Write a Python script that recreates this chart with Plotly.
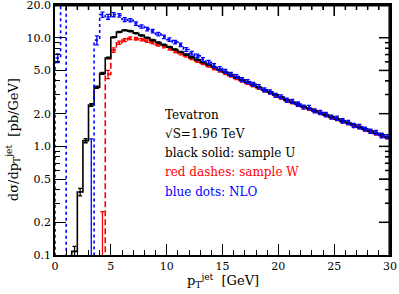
import plotly.graph_objects as go

# ---------------- data (0.5 GeV bins; values in pb/GeV) ----------------
BIN_W = 0.5

# black solid: sample U  (first bin starts at 1.5 GeV)
U_START = 1.5
U_VALS = [0.108, 0.38, 1.13, 2.4, 3.5, 4.7, 6.5,
          10.1, 11.3, 11.7, 11.5, 11.0, 10.5, 10.0, 9.5, 9.05, 8.6,
          8.2, 7.8, 7.4, 7.0, 6.6, 6.25, 5.95, 5.65, 5.35, 5.05,
          4.8, 4.55, 4.3, 4.1, 3.9, 3.7, 3.5, 3.3, 3.15, 2.98,
          2.83, 2.68, 2.55, 2.44, 2.33, 2.23, 2.13, 2.04, 1.95, 1.87,
          1.79, 1.71, 1.64, 1.57, 1.50, 1.44, 1.38, 1.32, 1.27, 1.21]
U_ERR = [0.012, 0.03, 0.05, 0.07, 0.08, 0.09, 0.11,
         0.15, 0.16, 0.16, 0.16, 0.15, 0.14, 0.14, 0.13, 0.12, 0.12,
         0.11, 0.11, 0.10, 0.10, 0.09, 0.09, 0.08, 0.08, 0.08, 0.07,
         0.07, 0.07, 0.06, 0.06, 0.06, 0.05, 0.05, 0.05, 0.05, 0.04,
         0.04, 0.04, 0.04, 0.04, 0.03, 0.03, 0.03, 0.03, 0.03, 0.03,
         0.03, 0.03, 0.03, 0.02, 0.02, 0.02, 0.02, 0.02, 0.02, 0.02]

# red dashes: sample W  (first bin starts at 4.0 GeV)
W_START = 4.0
W_VALS = [0.01, 4.6,
          7.7, 9.0, 9.5, 9.9, 9.8, 9.6, 9.3, 9.0, 8.6, 8.3,
          7.9, 7.5, 7.15, 6.8, 6.45, 6.1, 5.8, 5.5, 5.2, 4.95,
          4.7, 4.45, 4.22, 4.0, 3.82, 3.62, 3.44, 3.26, 3.10, 2.94,
          2.80, 2.65, 2.53, 2.42, 2.31, 2.21, 2.12, 2.02, 1.94, 1.85,
          1.78, 1.70, 1.63, 1.56, 1.50, 1.43, 1.37, 1.31, 1.26, 1.20]
W_ERR_UP = [0.24, 0.4,
            0.35, 0.3, 0.3, 0.28, 0.27, 0.26, 0.25, 0.24, 0.23, 0.22,
            0.21, 0.2, 0.19, 0.18, 0.17, 0.16, 0.15, 0.14, 0.13, 0.13,
            0.12, 0.11, 0.11, 0.10, 0.10, 0.09, 0.09, 0.08, 0.08, 0.08,
            0.07, 0.07, 0.07, 0.06, 0.06, 0.06, 0.06, 0.05, 0.05, 0.05,
            0.05, 0.05, 0.04, 0.04, 0.04, 0.04, 0.04, 0.04, 0.03, 0.03]
W_ERR_DN = [0.0, 0.4,
            0.35, 0.3, 0.3, 0.28, 0.27, 0.26, 0.25, 0.24, 0.23, 0.22,
            0.21, 0.2, 0.19, 0.18, 0.17, 0.16, 0.15, 0.14, 0.13, 0.13,
            0.12, 0.11, 0.11, 0.10, 0.10, 0.09, 0.09, 0.08, 0.08, 0.08,
            0.07, 0.07, 0.07, 0.06, 0.06, 0.06, 0.06, 0.05, 0.05, 0.05,
            0.05, 0.05, 0.04, 0.04, 0.04, 0.04, 0.04, 0.04, 0.03, 0.03]

# blue dots: NLO  (first bin starts at 0 GeV)
NLO_START = 0.0
NLO_VALS = [6.5, 40.0, 0.01, 0.01, 0.01, 0.01, 0.01, 9.5, 16.3, 15.6,
            16.3, 16.1, 14.7, 14.5, 13.5, 12.7, 12.0, 11.5, 10.8, 10.2,
            9.6, 9.1, 8.6, 7.8, 7.2, 6.8, 6.3, 5.95, 5.55, 5.2,
            4.9, 4.6, 4.4, 4.12, 3.95, 3.72, 3.55, 3.32, 3.18, 2.95,
            2.86, 2.66, 2.6, 2.45, 2.30, 2.28, 2.12, 2.05, 1.96, 1.86,
            1.82, 1.72, 1.66, 1.56, 1.52, 1.44, 1.38, 1.34, 1.26, 1.23]
NLO_ERR_UP = [0.6, 0.0, 0.0, 0.0, 0.0, 0.0, 1.16, 0.9, 0.9, 0.8,
              0.7, 0.6, 0.6, 0.5, 0.5, 0.45, 0.45, 0.4, 0.4, 0.38,
              0.35, 0.33, 0.3, 0.3, 0.28, 0.26, 0.25, 0.24, 0.22, 0.21,
              0.2, 0.19, 0.18, 0.17, 0.16, 0.15, 0.15, 0.14, 0.13, 0.13,
              0.12, 0.12, 0.11, 0.11, 0.10, 0.10, 0.09, 0.09, 0.09, 0.08,
              0.08, 0.08, 0.07, 0.07, 0.07, 0.06, 0.06, 0.06, 0.06, 0.05]
NLO_ERR_DN = [0.6, 0.0, 0.0, 0.0, 0.0, 0.0, 0.0, 0.9, 0.9, 0.8,
              0.7, 0.6, 0.6, 0.5, 0.5, 0.45, 0.45, 0.4, 0.4, 0.38,
              0.35, 0.33, 0.3, 0.3, 0.28, 0.26, 0.25, 0.24, 0.22, 0.21,
              0.2, 0.19, 0.18, 0.17, 0.16, 0.15, 0.15, 0.14, 0.13, 0.13,
              0.12, 0.12, 0.11, 0.11, 0.10, 0.10, 0.09, 0.09, 0.09, 0.08,
              0.08, 0.08, 0.07, 0.07, 0.07, 0.06, 0.06, 0.06, 0.06, 0.05]

X_RANGE = [0, 30]
Y_LOG_RANGE = [-1, 1.3012]
X_TICKS = [0, 5, 10, 15, 20, 25, 30]
X_MINOR = [v for v in range(1, 30) if v % 5 != 0]
Y_TICKS = [0.1, 0.2, 0.5, 1, 2, 5, 10, 20]
Y_TICK_TEXT = ["0.1", "0.2", "0.5", "1.0", "2.0", "5.0", "10.0", "20.0"]
Y_MINOR = [0.3, 0.4, 0.6, 0.7, 0.8, 0.9, 3, 4, 6, 7, 8, 9]

NOTE_LINES = [("Tevatron", "black"), ("√S=1.96 TeV", "black"),
              ("black solid: sample U", "black"),
              ("red dashes: sample W", "#ff0000"),
              ("blue dots: NLO", "#0000ff")]

FLOOR = 0.01  # below the visible range: used to start each step line

W_PX, H_PX = 399, 294
MARGIN = dict(l=55, r=9, t=5, b=39, pad=0)
MAJOR_LEN, MINOR_LEN = 11, 5


def step_xy(start, vals):
    edges = [start + i * BIN_W for i in range(len(vals) + 1)]
    xs = [start] + edges
    ys = [FLOOR] + list(vals) + [vals[-1]]
    return xs, ys


def centers(start, vals):
    return [start + (i + 0.5) * BIN_W for i in range(len(vals))]


fig = go.Figure()

series = [
    (W_START, W_VALS, W_ERR_UP, W_ERR_DN, "#ff0000", "6px,3px"),
    (U_START, U_VALS, U_ERR, U_ERR, "#000000", "solid"),
    (NLO_START, NLO_VALS, NLO_ERR_UP, NLO_ERR_DN, "#0000ff", "dot"),
]
for start, vals, eup, edn, col, dash in series:
    xs, ys = step_xy(start, vals)
    fig.add_trace(go.Scatter(x=xs, y=ys, mode="lines", line_shape="hv",
                             line=dict(color=col, width=1.6, dash=dash),
                             hoverinfo="skip", showlegend=False,
                             cliponaxis=True))
    fig.add_trace(go.Scatter(x=centers(start, vals), y=vals, mode="markers",
                             marker=dict(color=col, size=2),
                             error_y=dict(type="data", symmetric=False,
                                          array=eup, arrayminus=edn,
                                          color=col, thickness=1.3, width=2),
                             showlegend=False, cliponaxis=True))

# ---- top / right frame with mirrored ticks, drawn in axis units, just inside the edge ----
plot_w = W_PX - MARGIN["l"] - MARGIN["r"]
plot_h = H_PX - MARGIN["t"] - MARGIN["b"]
x_per_px = (X_RANGE[1] - X_RANGE[0]) / plot_w
dec_per_px = (Y_LOG_RANGE[1] - Y_LOG_RANGE[0]) / plot_h
inset = 0.8
y_top = 10 ** (Y_LOG_RANGE[1] - inset * dec_per_px)
y_bot = 10 ** Y_LOG_RANGE[0]
x_right = X_RANGE[1] - inset * x_per_px
fx = [X_RANGE[0], x_right, x_right, None]
fy = [y_top, y_top, y_bot, None]
for v, ln in [(t, MAJOR_LEN) for t in X_TICKS[1:-1]] + [(t, MINOR_LEN) for t in X_MINOR]:
    fx += [v, v, None]
    fy += [y_top, 10 ** (Y_LOG_RANGE[1] - ln * dec_per_px), None]
for v, ln in [(t, MAJOR_LEN) for t in Y_TICKS[1:-1]] + [(t, MINOR_LEN) for t in Y_MINOR]:
    fx += [x_right, X_RANGE[1] - ln * x_per_px, None]
    fy += [v, v, None]
fig.add_trace(go.Scatter(x=fx, y=fy, mode="lines", line=dict(color="black", width=1.5),
                         hoverinfo="skip", showlegend=False, cliponaxis=False,
                         connectgaps=False))

FONT = "DejaVu Serif"
for i, (txt, col) in enumerate(NOTE_LINES):
    fig.add_annotation(x=0.3215, y=0.56 - i * 0.0765, xref="paper", yref="paper",
                       text=txt, showarrow=False, xanchor="left", yanchor="middle",
                       font=dict(family=FONT, size=12, color=col))

# axis titles
fig.add_annotation(x=0.5, y=-0.058, xref="paper", yref="paper",
                   text="p<sub>T</sub><sup>jet</sup>  [GeV]", showarrow=False,
                   xanchor="center", yanchor="top",
                   font=dict(family=FONT, size=13, color="black"))
fig.add_annotation(x=-0.125, y=0.46, xref="paper", yref="paper",
                   text="dσ/dp<sub>T</sub><sup>jet</sup>  [pb/GeV]", showarrow=False,
                   textangle=-90, xanchor="center", yanchor="middle",
                   font=dict(family=FONT, size=13, color="black"))

axis_common = dict(showline=True, linecolor="black", linewidth=1.5, mirror="ticks",
                   ticks="inside", tickcolor="black", tickwidth=1.3, ticklen=MAJOR_LEN,
                   showgrid=False, zeroline=False, automargin=False,
                   ticklabeloverflow="allow",
                   tickfont=dict(family=FONT, size=11, color="black"))

fig.update_xaxes(range=X_RANGE, tickmode="array", tickvals=X_TICKS,
                 minor=dict(tickmode="array", tickvals=X_MINOR, ticks="inside",
                            ticklen=MINOR_LEN, tickwidth=1.2, tickcolor="black",
                            showgrid=False),
                 **axis_common)
fig.update_yaxes(type="log", range=Y_LOG_RANGE, tickmode="array",
                 tickvals=Y_TICKS, ticktext=Y_TICK_TEXT,
                 minor=dict(tickmode="array", tickvals=Y_MINOR, ticks="inside",
                            ticklen=MINOR_LEN, tickwidth=1.2, tickcolor="black",
                            showgrid=False),
                 **axis_common)

fig.update_layout(width=W_PX, height=H_PX, margin=MARGIN,
                  paper_bgcolor="white", plot_bgcolor="white",
                  showlegend=False)

fig.write_html("out.html", config={"displayModeBar": False},
               post_script="document.body.style.margin='0';"
                           "document.body.style.padding='0';"
                           "document.body.style.overflow='hidden';")
